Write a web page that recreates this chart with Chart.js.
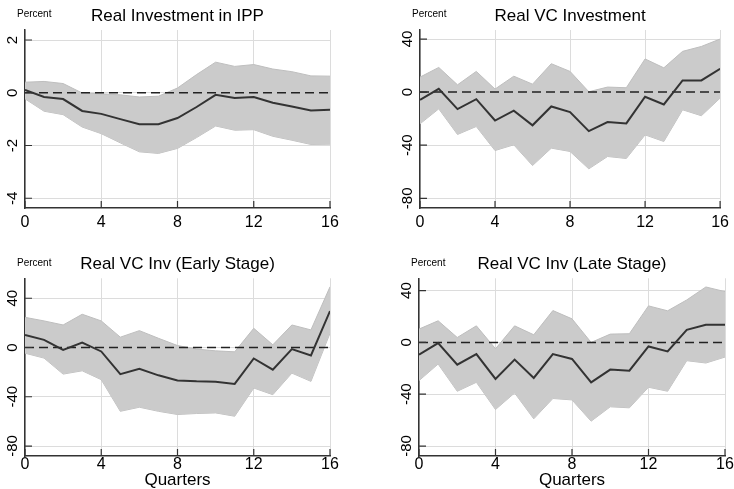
<!DOCTYPE html>
<html>
<head>
<meta charset="utf-8">
<script src="https://cdn.jsdelivr.net/npm/chart.js@4.4.1/dist/chart.umd.min.js"></script>
<style>
  body { margin: 0; background: #fff; }
  canvas { position: absolute; }
</style>
</head>
<body>
<canvas id="ippChart" width="367" height="240" style="left:0;top:0"></canvas>
<canvas id="vcChart" width="367" height="240" style="left:367px;top:0"></canvas>
<canvas id="earlyChart" width="367" height="249" style="left:0;top:240px"></canvas>
<canvas id="lateChart" width="367" height="249" style="left:367px;top:240px"></canvas>
<script>
const quarters = [0, 1, 2, 3, 4, 5, 6, 7, 8, 9, 10, 11, 12, 13, 14, 15, 16];
const xTicks = [0, 4, 8, 12, 16];
const ippTicks = [-4, -2, 0, 2];
const vcTicks = [-80, -40, 0, 40];

// Real Investment in IPP
const ippIrf = [0.11, -0.16, -0.24, -0.69, -0.8, -1.0, -1.19, -1.19, -0.96, -0.54, -0.08, -0.2, -0.16, -0.38, -0.52, -0.67, -0.64];
const ippUpper = [0.4, 0.43, 0.35, -0.01, -0.04, -0.08, -0.16, -0.13, 0.18, 0.69, 1.16, 1.0, 1.07, 0.9, 0.8, 0.64, 0.63];
const ippLower = [-0.23, -0.7, -0.83, -1.3, -1.55, -1.9, -2.24, -2.3, -2.11, -1.7, -1.26, -1.42, -1.4, -1.65, -1.8, -1.96, -1.95];

// Real VC Investment
const vcIrf = [-5.8, 2.5, -12.8, -5.3, -21.4, -14, -25, -10.8, -15, -29.4, -22.6, -23.6, -3.5, -9.3, 8.8, 8.8, 17.6];
const vcUpper = [11.3, 18.6, 5.5, 15.6, 2.3, 12, 6, 21.4, 15.6, 0.3, 3.8, 3.3, 25, 18.3, 30.7, 34.4, 40];
const vcLower = [-23.9, -12.6, -31.9, -25.9, -44, -39.7, -55.3, -42.2, -44.7, -57.8, -48.5, -50, -32.2, -37.2, -13.3, -17.8, -4.5];

// Real VC Inv (Early Stage)
const earlyIrf = [10.2, 6.2, -1.9, 4, -3.2, -21.6, -17.3, -22.6, -26.7, -27.5, -27.8, -29.6, -8.9, -18, -1.3, -6.5, 29.6];
const earlyUpper = [24.5, 21.6, 18.3, 27, 21.6, 8.4, 13.7, 7.5, 1.6, -1.3, -2.7, -3.5, 15.6, 2.2, 18.3, 14.3, 49.3];
const earlyLower = [-4.6, -8.6, -21.6, -18.9, -26.1, -51.8, -48.5, -51.8, -54.4, -53.6, -53.1, -55.8, -32.9, -38.3, -20.8, -27.5, 11.6];

// Real VC Inv (Late Stage)
const lateIrf = [-9.5, -0.5, -17.2, -9, -28.2, -13.3, -27.4, -9, -12.8, -30.8, -21, -21.8, -3.1, -6.9, 9.7, 13.6, 13.6];
const lateUpper = [10.3, 16.7, 3.8, 12.8, -4.9, 12.8, 5.9, 24.6, 18.2, 0, 6.4, 6.7, 28.2, 24.4, 32.8, 42.8, 39.2];
const lateLower = [-29.5, -16.7, -37.7, -30.8, -51.8, -39, -59, -43.3, -44.4, -60.8, -49.7, -50.5, -34.6, -37.7, -14.1, -15.9, -11.3];

const fontFamily = '"Liberation Sans", Arial, Helvetica, sans-serif';
Chart.defaults.font.family = fontFamily;
Chart.defaults.color = "#000";

const toPoints = (values) => values.map((v, i) => ({ x: quarters[i], y: v }));

// rotated y labels, inner tick marks and the little "Percent" note
const irfDecor = {
  id: "irfDecor",
  afterDatasetsDraw(chart) {
    const { ctx, chartArea, scales } = chart;
    const x = scales.x;
    const y = scales.y;
    ctx.save();
    ctx.strokeStyle = "#333";
    ctx.lineWidth = 1.2;
    ctx.beginPath();
    y.ticks.forEach((t) => {
      const py = y.getPixelForValue(t.value);
      ctx.moveTo(chartArea.left, py);
      ctx.lineTo(chartArea.left + 7, py);
    });
    x.ticks.forEach((t) => {
      const px = x.getPixelForValue(t.value);
      ctx.moveTo(px, chartArea.bottom);
      ctx.lineTo(px, chartArea.bottom - 7);
    });
    ctx.stroke();

    ctx.fillStyle = "#000";
    ctx.font = "15px " + fontFamily;
    ctx.textAlign = "center";
    ctx.textBaseline = "middle";
    y.ticks.forEach((t) => {
      ctx.save();
      ctx.translate(chartArea.left - 12, y.getPixelForValue(t.value));
      ctx.rotate(-Math.PI / 2);
      ctx.fillText(t.label, 0, 0);
      ctx.restore();
    });

    ctx.font = "10px " + fontFamily;
    ctx.textAlign = "left";
    ctx.fillText("Percent", chartArea.left - 8, chartArea.top - 15.5);
    ctx.restore();
  },
};

const makePanel = (id, cfg) => {
  const ctx = document.getElementById(id).getContext("2d");
  return new Chart(ctx, {
    type: "line",
    data: {
      datasets: [
        {
          label: "IRF",
          data: toPoints(cfg.irf),
          borderColor: "#333333",
          borderWidth: 2,
          pointRadius: 0,
          fill: false,
        },
        {
          label: "Zero",
          data: [
            { x: quarters[0], y: 0 },
            { x: quarters[quarters.length - 1], y: 0 },
          ],
          borderColor: "#222222",
          borderWidth: 1.5,
          borderDash: [9, 5],
          pointRadius: 0,
          fill: false,
        },
        {
          label: "Upper",
          data: toPoints(cfg.upper),
          borderColor: "#bebebe",
          borderWidth: 1,
          backgroundColor: "#cbcbcb",
          pointRadius: 0,
          fill: "+1",
        },
        {
          label: "Lower",
          data: toPoints(cfg.lower),
          borderColor: "#bebebe",
          borderWidth: 1,
          pointRadius: 0,
          fill: false,
        },
      ],
    },
    options: {
      responsive: false,
      animation: false,
      layout: {
        padding: { left: 0, right: cfg.padRight, top: 0, bottom: 0 },
      },
      plugins: {
        legend: { display: false },
        tooltip: { enabled: false },
        title: {
          display: true,
          text: cfg.title,
          fullSize: false,
          color: "#000",
          font: { size: 17, weight: "normal" },
          padding: { top: cfg.titleTop, bottom: 3.6 },
        },
      },
      scales: {
        x: {
          type: "linear",
          min: 0,
          max: 16,
          afterBuildTicks: (scale) => {
            scale.ticks = xTicks.map((v) => ({ value: v }));
          },
          afterFit: (scale) => {
            scale.height = cfg.xHeight;
          },
          grid: { color: "#dcdcdc", lineWidth: 1, drawTicks: false },
          border: { color: "#333", width: 1.5 },
          ticks: { padding: cfg.xPad, font: { size: 16 }, maxRotation: 0 },
          title: {
            display: cfg.showQuarters,
            text: "Quarters",
            font: { size: 17, lineHeight: 1 },
            padding: { top: 0, bottom: 0 },
          },
        },
        y: {
          min: cfg.yMin,
          max: cfg.yMax,
          afterBuildTicks: (scale) => {
            scale.ticks = cfg.yTicks.map((v) => ({ value: v }));
          },
          afterFit: (scale) => {
            scale.width = cfg.yWidth;
          },
          grid: { color: "#dcdcdc", lineWidth: 1, drawTicks: false },
          border: { color: "#333", width: 1.5 },
          ticks: { display: false },
        },
      },
    },
    plugins: [irfDecor],
  });
};

makePanel("ippChart", {
  title: "Real Investment in IPP",
  irf: ippIrf, upper: ippUpper, lower: ippLower,
  yTicks: ippTicks, yMin: -4.37, yMax: 2.38,
  yWidth: 25, padRight: 37, titleTop: 6, xHeight: 32, xPad: 5, showQuarters: false,
});
makePanel("vcChart", {
  title: "Real VC Investment",
  irf: vcIrf, upper: vcUpper, lower: vcLower,
  yTicks: vcTicks, yMin: -87.3, yMax: 46.8,
  yWidth: 53, padRight: 9, titleTop: 6, xHeight: 32, xPad: 5, showQuarters: false,
});
makePanel("earlyChart", {
  title: "Real VC Inv (Early Stage)",
  irf: earlyIrf, upper: earlyUpper, lower: earlyLower,
  yTicks: vcTicks, yMin: -88.1, yMax: 56.2,
  yWidth: 25, padRight: 37, titleTop: 14.3, xHeight: 33, xPad: -1, showQuarters: true,
});
makePanel("lateChart", {
  title: "Real VC Inv (Late Stage)",
  irf: lateIrf, upper: lateUpper, lower: lateLower,
  yTicks: vcTicks, yMin: -87.7, yMax: 49.5,
  yWidth: 52, padRight: 9, titleTop: 14.3, xHeight: 33, xPad: -1, showQuarters: true,
});
</script>
</body>
</html>
